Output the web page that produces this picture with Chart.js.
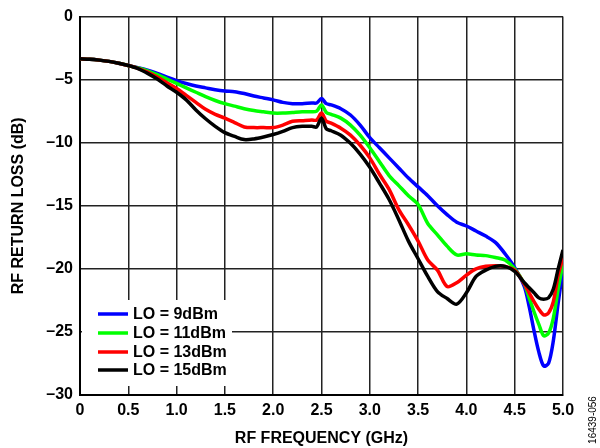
<!DOCTYPE html>
<html>
<head>
<meta charset="utf-8">
<script src="https://cdn.jsdelivr.net/npm/chart.js@4/dist/chart.umd.min.js"></script>
<style>
  html, body { margin: 0; padding: 0; background: #fff; }
  #wrap { width: 600px; height: 448px; position: relative; }
</style>
</head>
<body>
<div id="wrap"><canvas id="chart" width="600" height="448"></canvas></div>
<script>
// frequency points (GHz)
const freq = [0, 0.1, 0.2, 0.3, 0.4, 0.5, 0.6, 0.7, 0.8, 0.9, 1.0, 1.1, 1.2, 1.3, 1.4, 1.5, 1.6, 1.7, 1.8, 1.9,
  2.0, 2.1, 2.2, 2.3, 2.4, 2.45, 2.5, 2.55, 2.6, 2.7, 2.8, 2.9, 3.0, 3.1, 3.2, 3.3, 3.4, 3.5, 3.6, 3.7, 3.8, 3.9,
  4.0, 4.1, 4.2, 4.3, 4.4, 4.5, 4.6, 4.65, 4.7, 4.75, 4.8, 4.85, 4.9, 4.95, 5.0];

// return loss (dB) per LO drive level
const lo9 = [-3.35, -3.38, -3.45, -3.55, -3.7, -3.88, -4.05, -4.25, -4.5, -4.8, -5.07, -5.3, -5.5, -5.65, -5.8, -5.9, -5.95, -6.1, -6.3, -6.45,
  -6.6, -6.8, -6.9, -6.9, -6.85, -6.85, -6.5, -6.9, -7.0, -7.3, -7.8, -8.6, -9.6, -10.4, -11.2, -12.0, -12.8, -13.5, -14.2, -15.0, -15.7, -16.3,
  -16.6, -17.0, -17.4, -17.9, -18.8, -19.9, -21.4, -23.0, -24.9, -26.6, -27.7, -27.5, -25.7, -22.7, -20.0];
const lo11 = [-3.35, -3.38, -3.45, -3.55, -3.7, -3.88, -4.07, -4.3, -4.6, -4.95, -5.3, -5.65, -6.0, -6.35, -6.65, -6.9, -7.1, -7.3, -7.45, -7.55,
  -7.65, -7.65, -7.6, -7.55, -7.55, -7.5, -7.0, -7.6, -7.75, -8.05, -8.6, -9.4, -10.4, -11.5, -12.6, -13.4, -14.2, -14.9, -16.4, -17.3, -18.2, -18.9,
  -18.8, -18.9, -18.95, -19.1, -19.3, -20.0, -21.2, -22.3, -23.4, -24.4, -25.3, -25.1, -23.9, -21.6, -19.5];
const lo13 = [-3.35, -3.38, -3.45, -3.55, -3.7, -3.88, -4.1, -4.4, -4.8, -5.25, -5.7, -6.25, -6.8, -7.35, -7.75, -8.05, -8.4, -8.75, -8.8, -8.8,
  -8.8, -8.6, -8.3, -8.25, -8.2, -8.2, -7.65, -8.3, -8.45, -8.85, -9.4, -10.2, -11.2, -12.5, -13.7, -15.3, -16.5, -17.8, -19.3, -20.1, -21.4, -21.1,
  -20.5, -20.0, -19.8, -19.75, -19.8, -20.1, -21.2, -21.9, -22.6, -23.2, -23.65, -23.5, -22.6, -20.5, -19.1];
const lo15 = [-3.35, -3.38, -3.45, -3.55, -3.7, -3.88, -4.12, -4.5, -4.95, -5.5, -6.0, -6.6, -7.4, -8.1, -8.7, -9.2, -9.5, -9.75, -9.7, -9.55,
  -9.35, -9.1, -8.8, -8.7, -8.7, -8.75, -8.05, -8.9, -9.05, -9.4, -10.05, -10.9, -11.95, -13.2, -14.5, -16.1, -17.8, -19.2, -20.6, -21.8, -22.35, -22.8,
  -21.9, -20.6, -20.1, -19.8, -19.8, -20.2, -21.1, -21.5, -21.9, -22.3, -22.4, -22.3, -21.6, -20.0, -18.5];

const seriesLabels = ['LO = 9dBm', 'LO = 11dBm', 'LO = 13dBm', 'LO = 15dBm'];
const seriesColors = ['#0000ff', '#00ff00', '#ff0000', '#000000'];
const seriesData = [lo9, lo11, lo13, lo15];

const xTicks = [0, 0.5, 1.0, 1.5, 2.0, 2.5, 3.0, 3.5, 4.0, 4.5, 5.0];
const yTicks = [0, -5, -10, -15, -20, -25, -30];

const FONT = 'Arial, "Liberation Sans", sans-serif';

const datasets = seriesData.map((vals, i) => ({
  label: seriesLabels[i],
  data: freq.map((f, j) => ({ x: f, y: vals[j] })),
  borderColor: seriesColors[i],
  backgroundColor: seriesColors[i],
  borderWidth: 3.5,
  pointRadius: 0,
  tension: 0.3
})).reverse();

// legend box inside the plot, lower left
const insideLegend = {
  id: 'insideLegend',
  afterDraw(chart) {
    const ctx = chart.ctx;
    const area = chart.chartArea;
    ctx.save();
    ctx.fillStyle = '#fff';
    ctx.fillRect(area.left + 2, 300, 150, 86);
    ctx.font = 'bold 16px ' + FONT;
    ctx.textBaseline = 'middle';
    const rows = [314, 333, 352, 370];
    seriesLabels.forEach((lab, i) => {
      ctx.strokeStyle = seriesColors[i];
      ctx.lineWidth = 3.5;
      ctx.beginPath();
      ctx.moveTo(98, rows[i]);
      ctx.lineTo(128, rows[i]);
      ctx.stroke();
      ctx.fillStyle = '#000';
      ctx.fillText(lab, 133, rows[i] + 1);
    });
    // figure id
    ctx.translate(593, 420);
    ctx.rotate(-Math.PI / 2);
    ctx.font = '10px ' + FONT;
    ctx.textAlign = 'center';
    ctx.fillStyle = '#000';
    ctx.fillText('16439-056', 0, 0);
    ctx.restore();
  }
};

new Chart(document.getElementById('chart'), {
  type: 'line',
  data: { datasets },
  options: {
    responsive: false,
    animation: false,
    layout: { padding: { top: 10, right: 37, left: 0, bottom: 0 } },
    plugins: { legend: { display: false }, tooltip: { enabled: false } },
    scales: {
      x: {
        type: 'linear',
        min: 0, max: 5,
        afterFit: (s) => { s.height = 53; },
        afterBuildTicks: (s) => { s.ticks = xTicks.map(v => ({ value: v })); },
        ticks: {
          color: '#000',
          font: { family: FONT, size: 16, weight: 'bold' },
          padding: 6,
          maxRotation: 0,
          callback: (v) => v === 0 ? '0' : v.toFixed(1)
        },
        grid: { color: '#222', lineWidth: 1.5, drawTicks: false },
        border: { color: '#000', width: 2 },
        title: {
          display: true, text: 'RF FREQUENCY (GHz)', color: '#000',
          font: { family: FONT, size: 16, weight: 'bold' },
          padding: { top: 4, bottom: 0 }
        }
      },
      y: {
        type: 'linear',
        min: -30, max: 0,
        afterFit: (s) => { s.width = 80; },
        afterBuildTicks: (s) => { s.ticks = yTicks.map(v => ({ value: v })); },
        ticks: {
          color: '#000',
          font: { family: FONT, size: 16, weight: 'bold' },
          padding: 7,
          callback: (v) => v === 0 ? '0' : '\u2013' + Math.abs(v)
        },
        grid: { color: '#222', lineWidth: 1.5, drawTicks: false },
        border: { color: '#000', width: 2 },
        title: {
          display: true, text: 'RF RETURN LOSS (dB)', color: '#000',
          font: { family: FONT, size: 16, weight: 'bold' },
          padding: { top: 9, bottom: 4 }
        }
      }
    }
  },
  plugins: [insideLegend]
});
</script>
</body>
</html>
